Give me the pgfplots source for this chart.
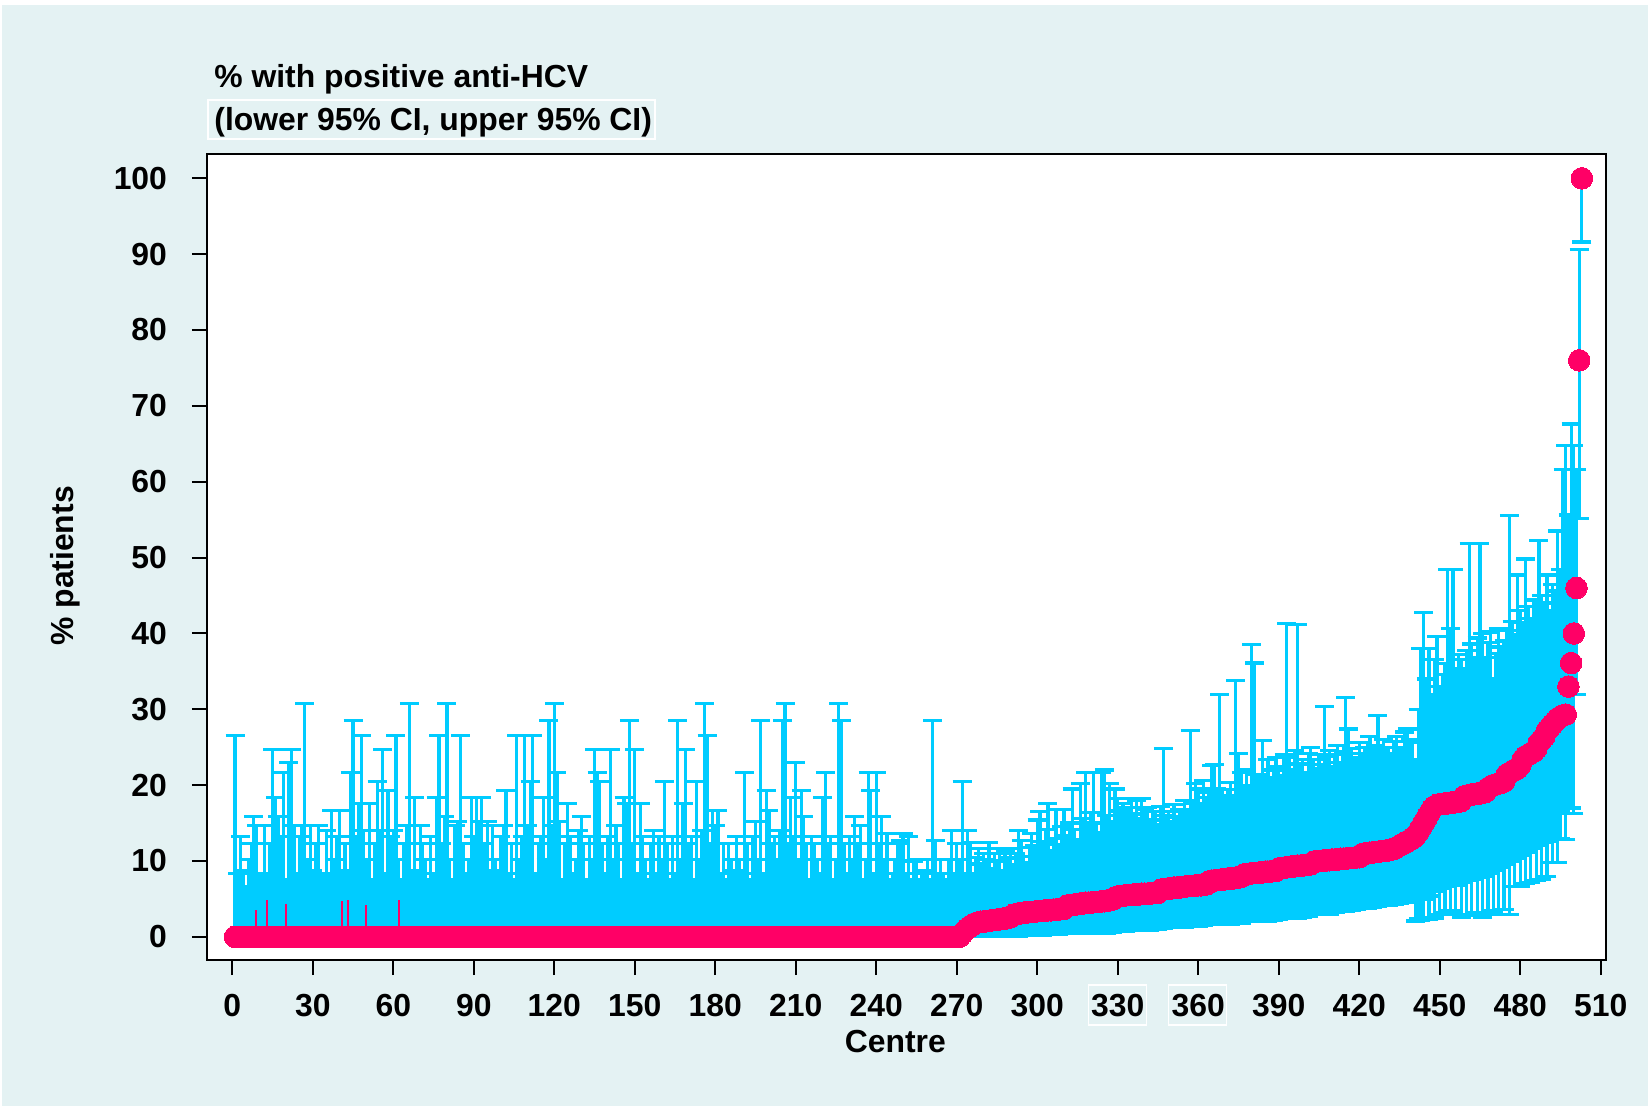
\documentclass[border=0pt]{standalone}
\usepackage{pgfplots}
\pgfplotsset{compat=1.18}
\usepackage{pgfplotstable}
\usepackage{fontspec}
\setmainfont{Liberation Sans}
\definecolor{bgc}{RGB}{228,242,243}
\definecolor{barc}{RGB}{0,204,255}
\definecolor{ptc}{RGB}{255,0,102}

\pgfplotstableread{
x p lo hi
1 0 0 26.5
2 0 0 8.4
3 0 0 13.2
4 0 0 8.8
5 0 0 6.6
6 0 0 10.2
7 0 0 12.3
8 0 0 15.9
9 0 0 14.7
10 0 0 7.9
11 0 0 8.4
12 0 0 14.7
13 0 0 7.6
14 0 0 12.3
15 0 0 24.7
16 0 0 18.4
17 0 0 15.9
18 0 0 13.2
19 0 0 21.7
20 0 0 7.6
21 0 0 23.0
22 0 0 24.7
23 0 0 14.7
24 0 0 8.4
25 0 0 13.2
26 0 0 14.7
27 0 0 30.8
28 0 0 10.2
29 0 0 14.7
30 0 0 8.8
31 0 0 12.3
32 0 0 14.7
33 0 0 8.4
34 0 0 7.9
35 0 0 14.0
36 0 0 7.6
37 0 0 16.7
38 0 0 10.2
39 0 0 13.2
40 0 0 16.7
41 0 0 8.8
42 0 0 12.3
43 0 0 8.4
44 0 0 21.7
45 0 0 28.5
46 0 0 13.2
47 0 0 17.6
48 0 0 26.5
49 0 0 14.0
50 0 0 10.2
51 0 0 17.6
52 0 0 7.6
53 0 0 12.3
54 0 0 20.5
55 0 0 14.0
56 0 0 24.7
57 0 0 8.4
58 0 0 19.3
59 0 0 13.2
60 0 0 14.0
61 0 0 26.5
62 0 0 10.2
63 0 0 7.6
64 0 0 12.3
65 0 0 14.7
66 0 0 30.8
67 0 0 8.4
68 0 0 18.4
69 0 0 8.8
70 0 0 14.7
71 0 0 12.3
72 0 0 10.2
73 0 0 7.6
74 0 0 13.2
75 0 0 8.4
76 0 0 18.4
77 0 0 26.5
78 0 0 12.3
79 0 0 15.9
80 0 0 30.8
81 0 0 10.2
82 0 0 7.6
83 0 0 14.7
84 0 0 15.2
85 0 0 26.5
86 0 0 12.3
87 0 0 8.4
88 0 0 10.2
89 0 0 18.4
90 0 0 13.2
91 0 0 18.4
92 0 0 15.2
93 0 0 18.4
94 0 0 12.3
95 0 0 15.2
96 0 0 8.4
97 0 0 14.7
98 0 0 10.2
99 0 0 8.8
100 0 0 13.2
101 0 0 14.7
102 0 0 19.3
103 0 0 8.4
104 0 0 12.3
105 0 0 7.6
106 0 0 26.5
107 0 0 10.2
108 0 0 13.2
109 0 0 26.5
110 0 0 14.7
111 0 0 20.5
112 0 0 26.5
113 0 0 8.4
114 0 0 12.3
115 0 0 13.2
116 0 0 18.4
117 0 0 10.2
118 0 0 28.5
119 0 0 14.7
120 0 0 30.8
121 0 0 21.7
122 0 0 15.2
123 0 0 7.6
124 0 0 12.3
125 0 0 17.6
126 0 0 13.2
127 0 0 8.4
128 0 0 10.2
129 0 0 14.0
130 0 0 15.9
131 0 0 12.3
132 0 0 7.6
133 0 0 13.2
134 0 0 10.2
135 0 0 24.7
136 0 0 21.7
137 0 0 20.5
138 0 0 12.3
139 0 0 8.4
140 0 0 13.2
141 0 0 24.7
142 0 0 10.2
143 0 0 14.7
144 0 0 12.3
145 0 0 7.6
146 0 0 18.4
147 0 0 17.6
148 0 0 28.5
149 0 0 12.3
150 0 0 24.7
151 0 0 8.4
152 0 0 17.6
153 0 0 13.2
154 0 0 10.2
155 0 0 7.6
156 0 0 12.3
157 0 0 14.0
158 0 0 8.4
159 0 0 13.2
160 0 0 10.2
161 0 0 20.5
162 0 0 12.3
163 0 0 7.6
164 0 0 13.2
165 0 0 8.4
166 0 0 28.5
167 0 0 10.2
168 0 0 17.6
169 0 0 24.7
170 0 0 12.3
171 0 0 13.2
172 0 0 7.6
173 0 0 20.5
174 0 0 10.2
175 0 0 14.0
176 0 0 30.8
177 0 0 26.5
178 0 0 12.3
179 0 0 16.7
180 0 0 14.7
181 0 0 16.7
182 0 0 8.4
183 0 0 12.3
184 0 0 7.6
185 0 0 12.3
186 0 0 10.2
187 0 0 8.8
188 0 0 13.2
189 0 0 10.2
190 0 0 8.4
191 0 0 21.7
192 0 0 12.3
193 0 0 7.6
194 0 0 13.2
195 0 0 15.2
196 0 0 10.2
197 0 0 28.5
198 0 0 8.4
199 0 0 19.3
200 0 0 16.7
201 0 0 12.3
202 0 0 13.2
203 0 0 10.2
204 0 0 14.0
205 0 0 28.5
206 0 0 30.8
207 0 0 12.3
208 0 0 18.4
209 0 0 13.2
210 0 0 23.0
211 0 0 10.2
212 0 0 19.3
213 0 0 15.9
214 0 0 12.3
215 0 0 7.6
216 0 0 13.2
217 0 0 12.3
218 0 0 10.2
219 0 0 8.4
220 0 0 18.4
221 0 0 21.7
222 0 0 12.3
223 0 0 13.2
224 0 0 7.6
225 0 0 10.2
226 0 0 30.8
227 0 0 28.5
228 0 0 12.3
229 0 0 8.4
230 0 0 13.2
231 0 0 10.2
232 0 0 15.9
233 0 0 12.3
234 0 0 14.7
235 0 0 7.6
236 0 0 10.2
237 0 0 21.7
238 0 0 19.3
239 0 0 8.4
240 0 0 21.7
241 0 0 12.3
242 0 0 15.9
243 0 0 10.2
244 0 0 13.6
245 0 0 7.6
246 0 0 8.4
247 0 0 10.2
248 0 0 12.3
249 0 0 12.7
250 0 0 13.6
251 0 0 8.4
252 0 0 13.2
253 0 0 7.6
254 0 0 10.0
255 0 0 10.2
256 0 0 7.6
257 0 0 8.4
258 0 0 8.8
259 0 0 10.2
260 0 0 7.6
261 0 0 28.5
262 0 0 12.7
263 0 0 8.4
264 0 0 10.2
265 0 0 8.4
266 0 0 7.6
267 0 0 10.2
268 0 0 14.0
269 0 0 8.4
270 0 0 12.3
271 0 0 10.2
272 0.4 0.0 20.5
273 0.8 0.0 8.3
274 1.1 0.0 14.0
275 1.4 0.0 12.4
276 1.6 0.0 8.3
277 1.8 0.1 10.5
278 1.9 0.1 11.6
279 2.0 0.0 9.6
280 2.0 0.1 11.0
281 2.1 0.0 10.2
282 2.1 0.1 12.4
283 2.2 0.1 9.0
284 2.2 0.0 11.0
285 2.3 0.1 10.0
286 2.3 0.1 11.6
287 2.4 0.1 8.8
288 2.4 0.1 11.2
289 2.5 0.1 10.4
290 2.6 0.1 11.6
291 2.9 0.2 9.5
292 3.0 0.2 11.0
293 3.1 0.1 14.0
294 3.1 0.2 12.7
295 3.2 0.2 10.6
296 3.2 0.3 9.8
297 3.3 0.2 11.8
298 3.3 0.3 13.6
299 3.3 0.2 12.0
300 3.4 0.4 15.4
301 3.4 0.3 16.5
302 3.4 0.2 12.6
303 3.5 0.4 14.2
304 3.5 0.3 17.6
305 3.5 0.4 11.4
306 3.6 0.3 13.0
307 3.6 0.4 16.8
308 3.6 0.3 12.2
309 3.7 0.5 14.6
310 3.7 0.4 16.8
311 4.1 0.5 13.4
312 4.2 0.6 15.0
313 4.2 0.4 19.5
314 4.3 0.6 14.2
315 4.3 0.5 12.8
316 4.4 0.6 20.2
317 4.4 0.5 15.6
318 4.5 0.7 21.7
319 4.5 0.6 14.8
320 4.5 0.5 16.4
321 4.6 0.7 21.7
322 4.6 0.6 15.0
323 4.6 0.5 13.8
324 4.7 0.7 21.7
325 4.7 0.6 22.0
326 4.8 0.5 16.0
327 4.8 0.7 20.2
328 4.9 0.6 15.2
329 5.2 0.8 19.5
330 5.3 0.7 18.2
331 5.4 0.9 16.6
332 5.4 0.8 17.6
333 5.5 0.7 15.8
334 5.5 0.9 17.1
335 5.5 0.8 18.2
336 5.6 1.0 16.2
337 5.6 0.9 18.0
338 5.6 0.8 15.6
339 5.7 1.0 18.2
340 5.7 0.9 16.8
341 5.7 1.1 17.1
342 5.7 0.9 15.4
343 5.8 1.0 16.5
344 5.8 1.1 16.5
345 5.8 1.0 14.8
346 6.2 1.2 17.2
347 6.3 1.1 24.8
348 6.3 1.3 16.0
349 6.4 1.2 16.5
350 6.4 1.3 15.2
351 6.5 1.2 17.4
352 6.5 1.4 15.8
353 6.5 1.3 16.8
354 6.6 1.4 16.5
355 6.6 1.3 18.0
356 6.7 1.5 16.2
357 6.7 1.4 27.2
358 6.7 1.5 17.6
359 6.8 1.6 20.2
360 6.8 1.4 19.5
361 6.8 1.6 17.4
362 6.9 1.5 20.6
363 6.9 1.7 18.4
364 7.3 1.6 19.0
365 7.4 1.8 22.6
366 7.4 1.7 22.7
367 7.5 1.8 19.5
368 7.5 1.6 31.9
369 7.6 1.9 19.4
370 7.6 1.8 18.4
371 7.7 1.9 19.4
372 7.7 1.7 20.4
373 7.7 2.0 18.6
374 7.8 1.9 33.8
375 7.8 2.0 24.2
376 7.9 1.8 21.7
377 8.2 2.1 20.0
378 8.3 2.0 22.0
379 8.3 2.2 19.6
380 8.4 2.1 38.5
381 8.4 2.0 36.1
382 8.4 2.2 21.4
383 8.5 2.1 20.6
384 8.5 2.3 25.9
385 8.6 2.2 21.0
386 8.6 2.1 23.4
387 8.6 2.3 20.8
388 8.7 2.2 22.0
389 8.7 2.4 23.6
390 9.0 2.3 22.5
391 9.1 2.5 21.2
392 9.1 2.4 24.0
393 9.2 2.6 41.3
394 9.2 2.5 23.6
395 9.3 2.4 22.0
396 9.3 2.6 24.6
397 9.4 2.5 41.2
398 9.4 2.7 22.8
399 9.4 2.6 23.4
400 9.5 2.8 21.6
401 9.5 2.7 24.2
402 9.6 2.9 25.0
403 9.9 3.0 23.4
404 10.0 2.9 22.2
405 10.0 3.1 24.0
406 10.0 3.0 22.7
407 10.1 3.2 30.4
408 10.1 3.1 23.8
409 10.1 3.0 24.6
410 10.2 3.3 22.4
411 10.2 3.2 24.0
412 10.2 3.4 25.2
413 10.3 3.3 23.0
414 10.3 3.5 24.4
415 10.3 3.4 31.6
416 10.4 3.6 27.4
417 10.4 3.5 24.8
418 10.4 3.7 23.6
419 10.5 3.6 23.2
420 10.5 3.8 25.6
421 10.9 3.7 24.2
422 11.0 3.9 25.0
423 11.0 3.8 23.8
424 11.1 4.0 26.4
425 11.1 3.9 24.6
426 11.2 4.1 25.2
427 11.2 4.0 29.2
428 11.3 4.2 24.6
429 11.3 4.1 26.0
430 11.4 4.3 25.0
431 11.4 4.2 24.2
432 11.5 4.4 24.2
433 11.6 4.3 25.8
434 11.8 4.5 26.4
435 12.0 4.4 25.0
436 12.2 4.6 24.6
437 12.4 4.5 27.0
438 12.6 4.7 27.4
439 12.8 4.6 26.0
440 13.0 4.8 25.6
441 13.3 2.1 23.4
442 13.8 2.4 30.0
443 14.4 2.2 38.0
444 15.0 2.6 42.8
445 15.6 5.0 34.0
446 16.2 2.3 38.0
447 16.8 5.4 32.0
448 17.2 2.5 36.6
449 17.4 6.0 39.6
450 17.5 3.0 33.0
451 17.5 6.4 34.6
452 17.6 3.2 36.0
453 17.6 6.6 48.4
454 17.7 3.4 40.6
455 17.7 7.0 48.4
456 17.8 3.0 35.0
457 17.8 6.8 37.2
458 17.9 2.6 36.6
459 18.5 7.2 35.4
460 18.6 2.8 37.8
461 18.7 7.4 51.9
462 18.8 3.0 38.6
463 18.8 7.6 36.8
464 18.9 3.2 39.4
465 18.9 7.8 51.9
466 19.0 2.6 40.0
467 19.1 8.0 36.8
468 19.6 3.0 38.8
469 19.8 8.4 40.2
470 20.0 3.4 34.0
471 20.1 8.8 37.4
472 20.2 2.9 40.7
473 20.3 9.2 38.2
474 20.5 3.6 39.0
475 21.4 9.6 40.4
476 21.6 3.0 55.5
477 21.8 10.0 41.6
478 22.0 6.6 39.8
479 22.2 10.4 47.7
480 22.6 6.6 43.0
481 23.4 10.8 41.4
482 23.8 7.0 49.8
483 24.0 11.2 43.5
484 24.2 7.2 42.0
485 24.4 11.6 44.4
486 24.8 7.4 43.5
487 25.6 12.0 52.3
488 26.0 7.6 45.0
489 26.4 12.4 44.0
490 27.2 8.0 47.7
491 27.6 12.6 43.0
492 28.0 9.8 46.4
493 28.4 12.8 45.6
494 28.8 9.8 53.5
495 29.0 13.0 48.4
496 29.2 16.3 61.6
497 29.3 12.8 64.8
498 33.0 16.3 55.6
499 36.1 17.0 67.6
500 40.0 16.3 64.8
501 46.0 32.0 61.6
502 76.0 55.1 90.6
503 100.0 91.6 100.0
}\data

\pgfplotstableread{
x p hi
9 0 3.6
13 0 4.9
20 0 4.3
41 0 4.7
43 0 4.8
50 0 4.2
62 0 4.9
}\pinklines

\begin{document}
\begin{tikzpicture}
\fill[white] (0,0) rectangle (824bp,-553bp);
\fill[bgc] (1bp,-2.5bp) rectangle (824bp,-553bp);
\node[anchor=base west, inner sep=0pt, font=\fontsize{16}{19}\selectfont\bfseries] at (107bp,-43.5bp) {\% with positive anti-HCV};
\draw[white, line width=0.6bp] (104bp,-50bp) rectangle (327.5bp,-69.5bp);
\node[anchor=base west, inner sep=0pt, font=\fontsize{16}{19}\selectfont\bfseries] at (107bp,-65bp) {(lower 95\% CI, upper 95\% CI)};
\begin{axis}[
  at={(103.5bp,-480bp)}, anchor=south west,
  scale only axis, width=699.5bp, height=403bp,
  xmin=-9.44, xmax=512, ymin=-3.05, ymax=103.2,
  axis background/.style={fill=white},
  axis line style={black, line width=1.2bp},
  xtick={0,30,...,510}, ytick={0,10,...,100},
  tick style={black, line width=1bp},
  tick align=outside, major tick length=7.5bp,
  xtick pos=bottom, ytick pos=left,
  ticklabel style={font=\fontsize{16}{19}\selectfont\bfseries},
  xticklabel style={yshift=-6.3bp},
  yticklabel style={xshift=-9bp},
  /pgf/number format/assume math mode=true,
  label style={font=\fontsize{16}{19}\selectfont\bfseries},
  xlabel={Centre}, ylabel={\% patients},
  xlabel style={at={(axis description cs:0.492,-0.1017)}, anchor=center},
  ylabel style={at={(axis description cs:-0.1015,0.489)}, anchor=center},
]
\addplot[barc, only marks, mark=none, forget plot,
  error bars/.cd, y dir=both, y explicit,
  error mark=|,
  error bar style={draw=barc, line width=1.6bp},
  error mark options={draw=barc, line width=1.6bp, mark size=4.75bp}]
  table[x=x, y=p, y error plus expr=\thisrow{hi}-\thisrow{p}, y error minus expr=\thisrow{p}-\thisrow{lo}] {\data};
\addplot[ptc, only marks, mark=none, forget plot,
  error bars/.cd, y dir=plus, y explicit,
  error bar style={draw=ptc, line width=1bp},
  error mark=none]
  table[x=x, y=p, y error plus expr=\thisrow{hi}-\thisrow{p}] {\pinklines};
\addplot[only marks, mark=*, mark size=5.4bp, mark options={draw=ptc, fill=ptc, line width=0pt}]
  table[x=x, y=p] {\data};
\end{axis}
\draw[white, line width=0.6bp] (544.1bp,-492.5bp) rectangle (573.1bp,-512.5bp);
\draw[white, line width=0.6bp] (584.3bp,-492.5bp) rectangle (613.3bp,-512.5bp);
\end{tikzpicture}
\end{document}
